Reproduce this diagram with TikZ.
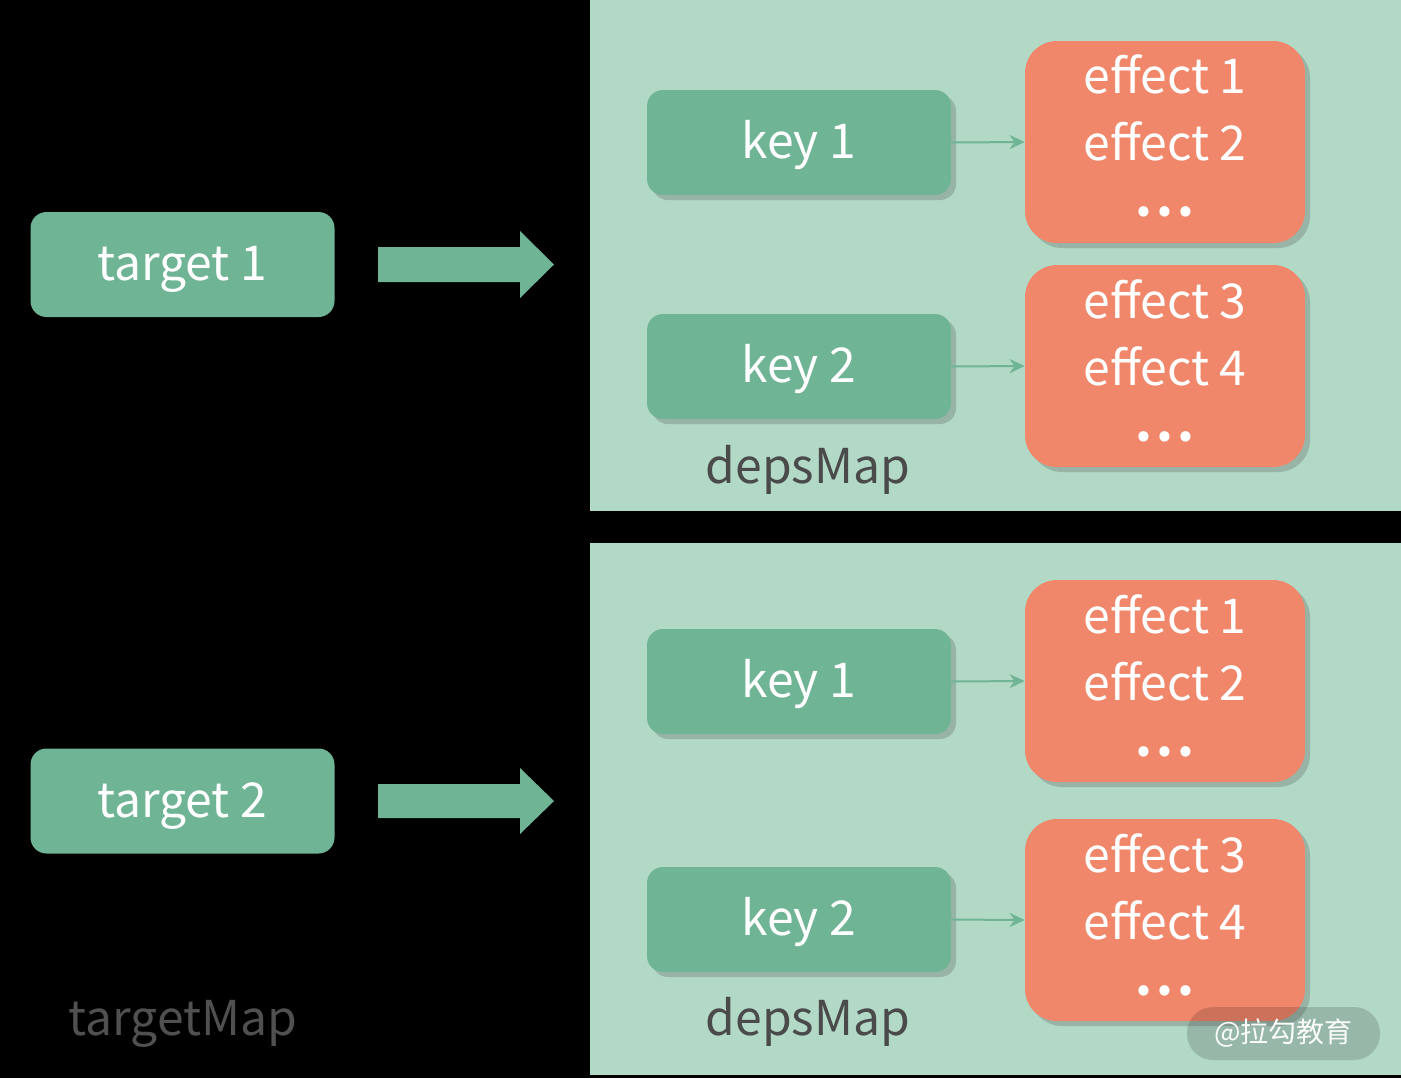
\documentclass[tikz,border=0pt]{standalone}
\usepackage{fontspec}
\setmainfont{Noto Sans CJK SC}
\usetikzlibrary{shadows,arrows.meta}
\definecolor{boxgreen}{HTML}{6FB494}
\definecolor{panel}{HTML}{B2D8C6}
\definecolor{effor}{HTML}{F0876A}
\definecolor{labgray}{HTML}{4A4A4A}
\definecolor{tmgray}{HTML}{505050}
\newcommand{\mydots}{\textbf{.\kern2pt.\kern2pt.}}
\tikzset{
  keybox/.style={fill=boxgreen, rounded corners=8pt, minimum width=152pt, minimum height=52.5pt, inner sep=0pt,
    text=white, font=\fontsize{24}{28}\selectfont, text height=16pt, text depth=0pt,
    drop shadow={shadow xshift=2.5pt, shadow yshift=-2.5pt, opacity=0.25, fill=black!70}},
  tgtbox/.style={fill=boxgreen, rounded corners=8pt, minimum width=152pt, minimum height=52.5pt, inner sep=0pt,
    text=white, font=\fontsize{24}{28}\selectfont, text height=16pt, text depth=0pt},
  effbox/.style={fill=effor, rounded corners=16pt, minimum width=140pt, minimum height=101pt, inner sep=0pt,
    drop shadow={shadow xshift=2.5pt, shadow yshift=-2.5pt, opacity=0.25, fill=black!70}},
  efftxt/.style={anchor=base, text=white, font=\fontsize{24}{28}\selectfont, inner sep=0pt},
  maplabel/.style={anchor=base, font=\fontsize{24}{28}\selectfont, inner sep=0pt},
  smallarrow/.style={draw=boxgreen, line width=1pt, -{Stealth[length=7.5pt,width=7pt]}},
  bigarrow/.style={fill=boxgreen},
}
\begin{document}
\begin{tikzpicture}[x=0.5pt,y=-0.5pt]
\useasboundingbox (0,0) rectangle (1401,1078);
\fill[black] (0,0) rectangle (1401,1078);
% panels
\fill[panel] (590,0) rectangle (1401,511);
\fill[panel] (590,543) rectangle (1401,1075);

% targets
\node[tgtbox] (t1) at (182.5,264.5) {target 1};
\node[tgtbox] (t2) at (182.5,801) {target 2};
\node[maplabel, text=tmgray] (tm) at (183,1035) {targetMap};

% big arrows
\fill[bigarrow] (378,247) -- (520,247) -- (520,231) -- (554,264.5) -- (520,298) -- (520,282) -- (378,282) -- cycle;
\fill[bigarrow] (378,784) -- (520,784) -- (520,768) -- (554,801) -- (520,834) -- (520,818) -- (378,818) -- cycle;

% top panel
\node[keybox] (k11) at (799,142.5) {key 1};
\node[keybox] (k12) at (799,366.5) {key 2};
\node[effbox] (e11) at (1165,142) {};
\node[effbox] (e12) at (1165,366) {};
\node[efftxt] (e11a) at (1165,93) {effect 1};
\node[efftxt] (e11b) at (1165,160) {effect 2};
\node[efftxt] (e11c) at (1165,216) {\mydots};
\node[efftxt] (e12a) at (1165,318) {effect 3};
\node[efftxt] (e12b) at (1165,385) {effect 4};
\node[efftxt] (e12c) at (1165,441) {\mydots};
\node[maplabel, text=labgray] (d1) at (808,483) {depsMap};
\draw[smallarrow] (k11.east) -- (e11.west);
\draw[smallarrow] (k12.east) -- (e12.west);

% bottom panel
\node[keybox] (k21) at (799,681.5) {key 1};
\node[keybox] (k22) at (799,919.5) {key 2};
\node[effbox] (e21) at (1165,681) {};
\node[effbox] (e22) at (1165,920) {};
\node[efftxt] (e21a) at (1165,633) {effect 1};
\node[efftxt] (e21b) at (1165,700) {effect 2};
\node[efftxt] (e21c) at (1165,756) {\mydots};
\node[efftxt] (e22a) at (1165,872) {effect 3};
\node[efftxt] (e22b) at (1165,939) {effect 4};
\node[efftxt] (e22c) at (1165,995) {\mydots};
\node[maplabel, text=labgray] (d2) at (808,1035) {depsMap};
\draw[smallarrow] (k21.east) -- (e21.west);
\draw[smallarrow] (k22.east) -- (e22.west);

% watermark
\node[fill=black, fill opacity=0.15, text opacity=1, text=white!92!panel, rounded corners=13pt,
  minimum width=96.5pt, minimum height=26.5pt, inner sep=0pt, font=\fontsize{14}{16}\selectfont] (wm) at (1283.5,1033.5) {@拉勾教育};
\end{tikzpicture}
\end{document}
